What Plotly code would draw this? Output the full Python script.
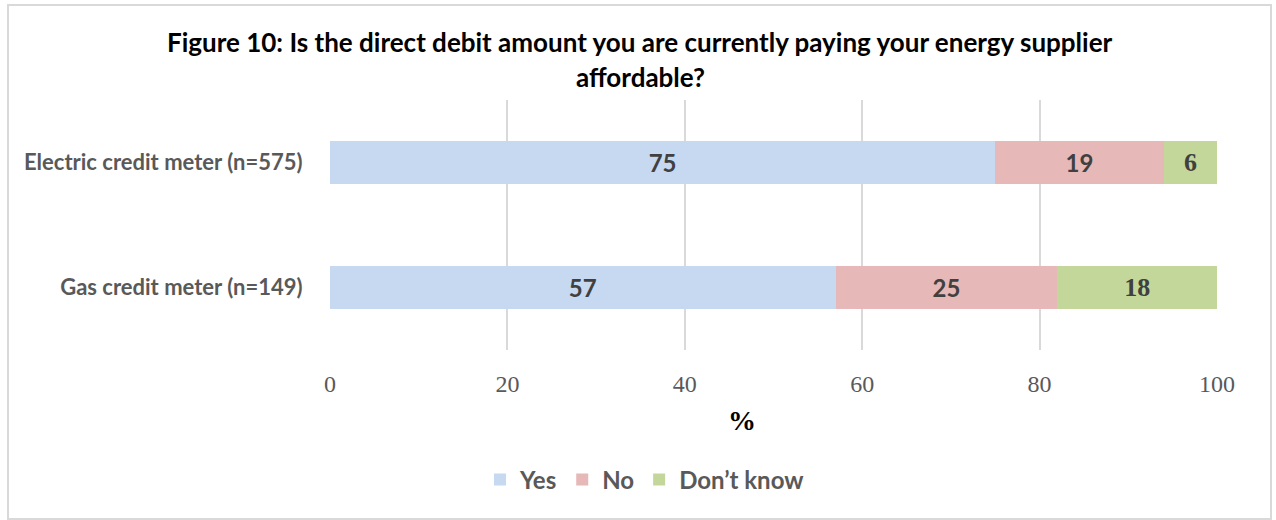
import plotly.graph_objects as go

# Survey responses (%), bottom category first so Electric sits on top
categories = ["Gas credit meter (n=149)", "Electric credit meter (n=575)"]
yes_vals = [57, 75]
no_vals = [25, 19]
dont_know_vals = [18, 6]
x_ticks = [0, 20, 40, 60, 80, 100]
title_lines = [
    "Figure 10: Is the direct debit amount you are currently paying your energy supplier",
    "affordable?",
]

SANS = "Lato, 'Open Sans', sans-serif"
SERIF = "'Liberation Serif', 'DejaVu Serif', serif"

# plot area in pixels
L, R, T, B = 330, 1217, 100, 350
PW, PH = R - L, B - T


def px(x):
    return (x - L) / PW


def py(y):
    return (B - y) / PH


fig = go.Figure()

series = [
    ("Yes", yes_vals, "#C6D9F0", SANS, 24),
    ("No", no_vals, "#E6B8B7", SANS, 24),
    ("Don\u2019t know", dont_know_vals, "#C4D79B", SERIF, 26),
]
for name, vals, color, lab_font, lab_size in series:
    fig.add_trace(go.Bar(
        name=name,
        y=categories,
        x=vals,
        orientation="h",
        marker=dict(color=color, line=dict(width=0)),
        width=0.35,
        text=[str(v) for v in vals],
        textposition="inside",
        insidetextanchor="middle",
        textfont=dict(family=lab_font, size=lab_size, color="#404040", weight="bold"),
        hoverinfo="skip",
    ))

annotations = []
for i, line in enumerate(title_lines):
    annotations.append(dict(
        text=line,
        xref="paper", yref="paper",
        x=px(640), y=py(42 + 35 * i),
        xanchor="center", yanchor="middle",
        showarrow=False,
        borderpad=0,
        font=dict(family=SANS, size=26, color="#000000", weight="bold"),
    ))
annotations.append(dict(
    text="%",
    xref="paper", yref="paper",
    x=px(742), y=py(420),
    xanchor="center", yanchor="middle",
    showarrow=False,
    font=dict(family=SERIF, size=28, color="#000000", weight="bold"),
))

fig.update_layout(
    barmode="stack",
    width=1276,
    height=520,
    margin=dict(l=L, r=1276 - R, t=T, b=520 - B),
    paper_bgcolor="white",
    plot_bgcolor="white",
    showlegend=True,
    legend=dict(
        orientation="h",
        x=px(645), xanchor="center",
        y=py(480), yanchor="middle",
        font=dict(family=SANS, size=24, color="#595959", weight="bold"),
        traceorder="normal",
    ),
    xaxis=dict(
        range=[0, 100],
        tickvals=x_ticks,
        ticktext=[str(t) for t in x_ticks],
        showgrid=True,
        gridcolor="#D9D9D9",
        gridwidth=2,
        zeroline=False,
        showline=False,
        ticks="outside",
        ticklen=12,
        tickcolor="rgba(0,0,0,0)",
        tickfont=dict(family=SERIF, size=24, color="#595959"),
        fixedrange=True,
    ),
    yaxis=dict(
        range=[-0.5, 1.5],
        showgrid=False,
        zeroline=False,
        showline=False,
        ticks="outside",
        ticklen=22,
        tickcolor="rgba(0,0,0,0)",
        tickfont=dict(family=SANS, size=22, color="#595959", weight="bold"),
        fixedrange=True,
    ),
    shapes=[
        dict(type="rect", xref="paper", yref="paper",
             x0=px(8), x1=px(1271), y0=py(519), y1=py(5),
             line=dict(color="#D9D9D9", width=2), fillcolor="rgba(0,0,0,0)",
             layer="below"),
    ],
    annotations=annotations,
)

fig.write_html("out.html")
